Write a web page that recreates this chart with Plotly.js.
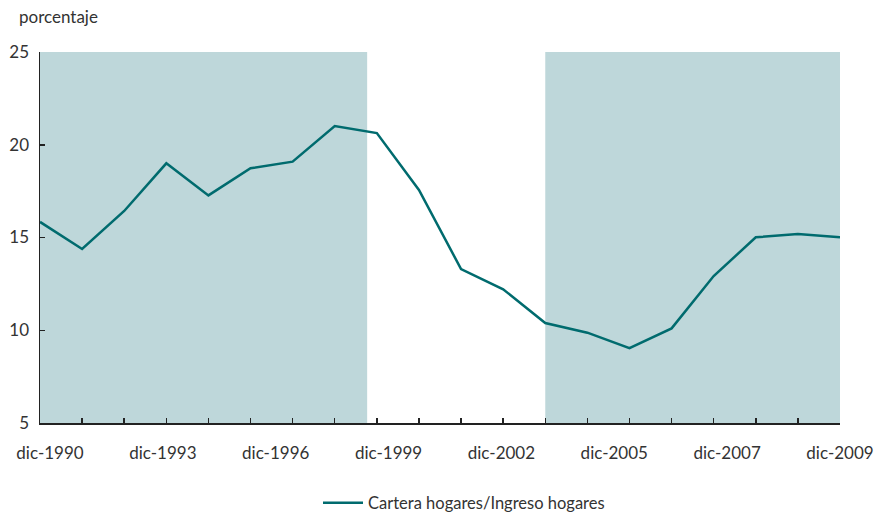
<!DOCTYPE html>
<html>
<head>
<meta charset="utf-8">
<script src="https://cdn.plot.ly/plotly-3.0.1.min.js"></script>
<style>html,body{margin:0;padding:0;background:#fff;}#chart{width:879px;height:518px;}</style>
</head>
<body>
<div id="chart"></div>
<script>
const years = [1990,1991,1992,1993,1994,1995,1996,1997,1998,1999,2000,2001,2002,2003,2004,2005,2006,2007,2008,2009];
const ratio = [15.84,14.38,16.43,19.0,17.27,18.73,19.09,21.01,20.63,17.56,13.30,12.21,10.39,9.87,9.03,10.10,12.92,15.01,15.19,15.01];
const tickLabels = ["dic-1990","dic-1993","dic-1996","dic-1999","dic-2002","dic-2005","dic-2007","dic-2009"];
const shadedPeriods = [[1990, 1997.77], [2002, 2009]];
const seriesName = "Cartera hogares/Ingreso hogares";

const font = "Lato, 'Open Sans', sans-serif";
const shapes = shadedPeriods.map(p => ({
  type: 'rect', xref: 'x', yref: 'paper', x0: p[0], x1: p[1], y0: 0, y1: 1,
  fillcolor: '#bed7da', line: {width: 0}, layer: 'below'
}));

const traces = [
  {x: years, y: ratio, type: 'scatter', mode: 'lines', name: seriesName,
   line: {color: '#006b6e', width: 2.5}, cliponaxis: false},
  {x: tickLabels.map((_, i) => i), y: tickLabels.map(() => 5), xaxis: 'x2', type: 'scatter',
   mode: 'markers', marker: {opacity: 0}, showlegend: false, hoverinfo: 'skip'}
];

const layout = {
  width: 879, height: 518,
  margin: {l: 40, r: 39, t: 52, b: 95, autoexpand: false},
  paper_bgcolor: '#fff', plot_bgcolor: '#fff',
  font: {family: font, color: '#333', size: 16},
  showlegend: true,
  legend: {orientation: 'h', x: 0.53, xanchor: 'center', yref: 'container', y: 0.029, yanchor: 'middle',
           itemwidth: 40, font: {family: font, size: 16.5, color: '#333'}},
  shapes: shapes,
  xaxis: {range: [1990, 2009], showgrid: false, zeroline: false,
          showline: true, linecolor: '#222', linewidth: 1.5,
          ticks: 'inside', ticklen: 5, tickcolor: '#222', tickwidth: 1.5,
          tickvals: years, showticklabels: false},
  xaxis2: {overlaying: 'x', anchor: 'y', side: 'bottom', range: [-0.0885, 7.0],
           showgrid: false, zeroline: false, showline: false, ticks: '',
           tickvals: tickLabels.map((_, i) => i), ticktext: tickLabels,
           ticklabelstandoff: 18, tickfont: {family: font, size: 17, color: '#333'}},
  yaxis: {range: [5, 25], tickvals: [5,10,15,20,25], showgrid: false, zeroline: false,
          showline: true, linecolor: '#222', linewidth: 1.5,
          ticks: 'inside', ticklen: 5, tickcolor: '#222', tickwidth: 1.5,
          tickfont: {family: font, size: 17, color: '#333'}, ticklabelstandoff: 6},
  annotations: [{text: 'porcentaje', xref: 'paper', yref: 'paper', x: -0.029, y: 1.097,
                 xanchor: 'left', yanchor: 'middle', showarrow: false,
                 font: {family: font, size: 17, color: '#333'}}]
};

Plotly.newPlot('chart', traces, layout, {displayModeBar: false, staticPlot: true});
</script>
</body>
</html>
